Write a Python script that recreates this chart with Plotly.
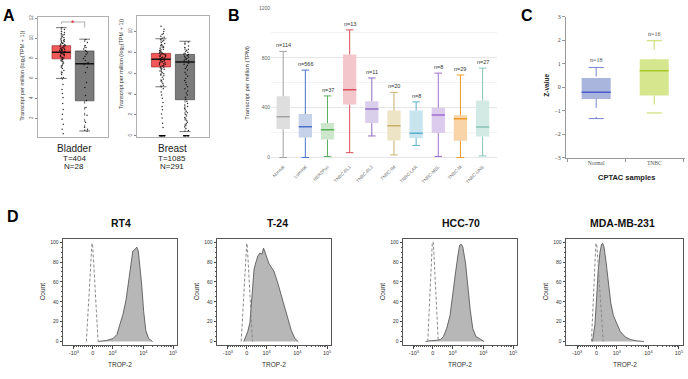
import math
import plotly.graph_objects as go

W, H = 688, 379
def fx(p): return p / W
def fy(p): return 1 - p / H

SANS = "Liberation Sans, Arial, sans-serif"
SERIF = "Liberation Serif, Times New Roman, serif"

# ---------------- DATA ----------------
# Panel A (log2(TPM+1)); stats: lower whisker, q1, median, q3, upper whisker
a_tissues = ["Bladder", "Breast"]
a_tumor_labels = ["T=404", "T=1085"]
a_normal_labels = ["N=28", "N=291"]
a_bladder_tumor = [6.0, 7.96, 8.62, 9.28, 11.08]
a_bladder_normal = [0.74, 3.76, 7.47, 8.75, 9.93]
a_breast_tumor = [4.7, 6.6, 7.33, 7.9, 9.3]
a_breast_normal = [0.4, 3.46, 7.07, 7.8, 9.06]
a_bladder_ticks = [2, 4, 6, 8, 10, 12]
a_breast_ticks = [0, 2, 4, 6, 8, 10]

bladder_tumor_pts = [11.1, 10.9, 10.7, 10.6, 10.5, 10.4, 10.35, 10.2, 10.1, 10.05, 9.95, 9.9, 9.8,
                     9.75, 9.7, 9.6, 9.55, 9.5, 9.45, 9.4, 9.35, 9.3, 9.28, 9.2, 9.15, 9.1, 9.05, 9.0,
                     8.97, 8.92, 8.88, 8.85, 8.8, 8.76, 8.72, 8.7, 8.66, 8.62, 8.58, 8.55, 8.5, 8.46,
                     8.42, 8.38, 8.33, 8.28, 8.22, 8.15, 8.1, 8.05, 7.98, 7.9, 7.82, 7.75, 7.66, 7.55,
                     7.45, 7.3, 7.15, 7.0, 6.8, 6.6, 6.4, 6.1, 5.95, 5.4, 4.9, 4.5, 4.1, 3.5, 2.9, 2.4,
                     1.9, 1.4, 0.9, 0.45]
bladder_normal_pts = [9.9, 9.6, 9.3, 9.1, 8.95, 8.8, 8.7, 8.55, 8.4, 8.2, 8.0, 7.8, 7.6, 7.5, 7.4,
                      7.1, 6.6, 5.6, 5.1, 4.3, 3.8, 3.1, 2.3, 1.6, 1.1, 0.9, 0.8, 0.7]
breast_tumor_pts = [10.5, 10.2, 10.0, 9.8, 9.7, 9.55, 9.45, 9.35, 9.25, 9.15, 9.05, 8.95, 8.85, 8.75,
                    8.68, 8.6, 8.52, 8.45, 8.38, 8.3, 8.24, 8.18, 8.12, 8.06, 8.0, 7.96, 7.92, 7.88,
                    7.84, 7.8, 7.76, 7.72, 7.68, 7.64, 7.6, 7.56, 7.52, 7.48, 7.44, 7.4, 7.36, 7.32,
                    7.28, 7.24, 7.2, 7.16, 7.12, 7.08, 7.04, 7.0, 6.95, 6.9, 6.85, 6.8, 6.75, 6.7,
                    6.64, 6.58, 6.52, 6.45, 6.38, 6.3, 6.22, 6.14, 6.05, 5.95, 5.85, 5.75, 5.6, 5.45,
                    5.3, 5.15, 5.0, 4.85, 4.7, 4.5, 4.2, 3.9, 3.6, 3.2, 2.8, 2.5, 2.1, 1.7, 1.2, 0.8,
                    0, 0, 0, 0, 0, 0, 0, 0, 0, 0, 0, 0, 0, 0, 0, 0, 0, 0, 0, 0]
breast_normal_pts = [9.0, 8.8, 8.6, 8.45, 8.3, 8.2, 8.1, 8.0, 7.92, 7.85, 7.78, 7.7, 7.62, 7.55, 7.48,
                     7.4, 7.32, 7.25, 7.18, 7.1, 7.02, 6.95, 6.85, 6.75, 6.6, 6.45, 6.3, 6.1, 5.9, 5.7,
                     5.5, 5.3, 5.1, 4.9, 4.7, 4.5, 4.3, 4.1, 3.9, 3.7, 3.5, 3.3, 3.1, 2.95, 2.8, 2.65,
                     2.5, 2.35, 2.2, 2.05, 1.9, 1.75, 1.6, 1.45, 1.3, 1.15, 1.0, 0.85, 0.7, 0.5,
                     0, 0, 0, 0, 0, 0, 0, 0, 0, 0, 0, 0, 0, 0, 0]

# Panel B (TPM)
b_subtypes = ["Normal", "Luminal", "HER2Pos", "TNBC-BL1", "TNBC-BL2", "TNBC-IM",
              "TNBC-LAR", "TNBC-MSL", "TNBC-M", "TNBC-UNS"]
b_n = [114, 566, 37, 13, 11, 20, 8, 8, 29, 27]
b_low = [0, 0, 8, 39, 173, 21, 97, 8, 0, 13]
b_q1 = [228, 160, 144, 425, 276, 137, 155, 197, 134, 168]
b_median = [328, 247, 223, 543, 389, 255, 194, 341, 310, 244]
b_q3 = [491, 349, 276, 827, 452, 378, 378, 399, 339, 457]
b_high = [851, 701, 494, 1024, 638, 523, 446, 677, 662, 717]
b_major_ticks = [0, 400, 800, 1200]
b_minor_ticks = [200, 600, 1000]
b_line_colors = ["#a3a3a3", "#4a72c8", "#5cb05c", "#d9505a", "#8f6cc0", "#c9b06e",
                 "#58b0d0", "#a070d0", "#ec9a28", "#86c4b8"]
b_fill_colors = ["#dedede", "#c6d1ea", "#cde7cd", "#f3c6cb", "#dacfea", "#ede3c5",
                 "#c8e5ef", "#ddcbee", "#f9d4a9", "#d2e9e4"]

# Panel C (CPTAC z-values)
c_groups = ["Normal", "TNBC"]
c_n = [18, 16]
c_low = [-1.34, -1.10]
c_q1 = [-0.50, -0.36]
c_median = [-0.22, 0.70]
c_q3 = [0.39, 1.19]
c_high = [0.84, 1.98]
c_ticks = [-3, -2, -1, 0, 1, 2, 3]

# Panel D (flow cytometry, biexponential display channel)
d_cell_lines = ["RT4", "T-24", "HCC-70", "MDA-MB-231"]
d_tick_channels = [-0.95, 0, 1, 2.55, 4.05]
d_tick_labels = ["-10<sup>3</sup>", "0", "10<sup>3</sup>", "10<sup>4</sup>", "10<sup>5</sup>"]
d_count_ticks = [0, 20, 40, 60, 80, 100]

rt4_channel = [0.27, 0.68, 1.02, 1.22, 1.35, 1.52, 1.68, 1.80, 1.85, 1.93, 2.02, 2.10, 2.15,
               2.22, 2.30, 2.38, 2.47, 2.57, 2.68, 2.82, 3.02]
rt4_count = [0, 1, 3, 7, 16, 27, 42, 60, 71, 80, 91, 92, 93, 95, 91, 76, 57, 30, 11, 3, 0]
rt4_iso_channel = [-0.32, -0.04, 0.0, 0.27]
rt4_iso_count = [0, 99, 96, 0]

t24_channel = [-0.15, 0.05, 0.16, 0.24, 0.31, 0.37, 0.45, 0.56, 0.66, 0.77, 0.85, 0.94, 1.02,
               1.11, 1.20, 1.37, 1.55, 1.72, 1.89, 2.07, 2.25, 2.43, 2.60]
t24_count = [0, 10, 19, 38, 57, 73, 79, 86, 89, 88, 94, 89, 83, 79, 76, 71, 60, 48, 35, 22, 11, 3, 0]
t24_iso_channel = [-0.28, 0.0, 0.03, 0.29]
t24_iso_count = [0, 99, 96, 0]

hcc_channel = [-0.36, -0.2, 0.21, 0.38, 0.54, 0.70, 0.87, 1.03, 1.16, 1.28, 1.36, 1.44, 1.52,
               1.66, 1.77, 1.89, 2.02, 2.18, 2.43, 2.59]
hcc_count = [0, 0.6, 1.3, 2, 5, 13, 26, 48, 71, 88, 97, 98, 95, 78, 55, 32, 13, 5, 2, 0]
hcc_iso_channel = [-0.25, -0.02, 0.03, 0.28]
hcc_iso_count = [0, 100, 100, 0]

mda_channel = [-0.2, -0.08, 0.0, 0.08, 0.17, 0.25, 0.30, 0.37, 0.47, 0.58, 0.70, 0.83, 1.0,
               1.17, 1.42, 1.67, 2.0, 2.33]
mda_count = [0, 17, 42, 71, 90, 98, 99, 95, 80, 58, 39, 26, 17, 10, 4.5, 2, 0.6, 0]
mda_iso_channel = [-0.25, -0.03, 0.02, 0.33]
mda_iso_count = [0, 99, 96, 0]

d_series = [(rt4_channel, rt4_count, rt4_iso_channel, rt4_iso_count),
            (t24_channel, t24_count, t24_iso_channel, t24_iso_count),
            (hcc_channel, hcc_count, hcc_iso_channel, hcc_iso_count),
            (mda_channel, mda_count, mda_iso_channel, mda_iso_count)]

# ---------------- FIGURE ----------------
fig = go.Figure()
annotations = []

def note(cx, cy, text, size, color="#222", angle=0, family=None):
    f = dict(size=size, color=color)
    if family:
        f["family"] = family
    annotations.append(dict(x=fx(cx), y=fy(cy), xref="paper", yref="paper", text=text,
                            showarrow=False, xanchor="center", yanchor="middle",
                            textangle=angle, font=f))

def axn(n):
    return ("x", "y") if n == 1 else (f"x{n}", f"y{n}")

def add_boxes(n, xs, lo, q1, med, q3, hi, fills, lines, meds, box_w, cap_half,
              wdash="solid", wwidth=1.0, mwidth=1.5, borders=None, bwidth=0.0):
    xa, ya = axn(n)
    fig.add_trace(go.Bar(x=xs, y=[b - a for a, b in zip(q1, q3)], base=q1, width=box_w,
                         marker=dict(color=fills,
                                     line=dict(color=borders if borders else fills, width=bwidth)),
                         xaxis=xa, yaxis=ya, hoverinfo="skip"))
    for i, x in enumerate(xs):
        fig.add_trace(go.Scatter(x=[x, x, None, x, x], y=[hi[i], q3[i], None, q1[i], lo[i]],
                                 mode="lines", line=dict(color=lines[i], width=wwidth, dash=wdash),
                                 xaxis=xa, yaxis=ya, hoverinfo="skip"))
        fig.add_trace(go.Scatter(x=[x - cap_half, x + cap_half, None, x - cap_half, x + cap_half],
                                 y=[hi[i], hi[i], None, lo[i], lo[i]], mode="lines",
                                 line=dict(color=lines[i], width=wwidth),
                                 xaxis=xa, yaxis=ya, hoverinfo="skip"))
        fig.add_trace(go.Scatter(x=[x - box_w / 2, x + box_w / 2], y=[med[i], med[i]], mode="lines",
                                 line=dict(color=meds[i], width=mwidth),
                                 xaxis=xa, yaxis=ya, hoverinfo="skip"))

# ---- Panel A ----
a_sets = [(1, a_bladder_tumor, a_bladder_normal, bladder_tumor_pts, bladder_normal_pts),
          (2, a_breast_tumor, a_breast_normal, breast_tumor_pts, breast_normal_pts)]
for n, tum, nor, tpts, npts in a_sets:
    xa, ya = axn(n)
    for pos, pts in ((1, tpts), (2, npts)):
        fig.add_trace(go.Box(y=pts, x0=pos + 0.06, boxpoints="all", jitter=0.6, pointpos=0, width=0.45,
                             line=dict(width=0), fillcolor="rgba(0,0,0,0)",
                             marker=dict(size=1.5, color="rgba(0,0,0,0.8)"),
                             xaxis=xa, yaxis=ya, hoverinfo="skip"))
    add_boxes(n, [1, 2], [tum[0], nor[0]], [tum[1], nor[1]], [tum[2], nor[2]], [tum[3], nor[3]],
              [tum[4], nor[4]], ["#f25858", "#7b7b7b"], ["#333333", "#333333"], ["#111111", "#111111"],
              0.8, 0.23, wdash="dot", wwidth=0.7, mwidth=1.4,
              borders=["#9a3030", "#4a4a4a"], bwidth=0.7)

# significance bracket (bladder)
fig.add_trace(go.Scatter(x=[1, 1, 2, 2], y=[11.45, 11.65, 11.65, 11.1], mode="lines",
                         line=dict(color="#777777", width=0.6), xaxis="x", yaxis="y", hoverinfo="skip"))
annotations.append(dict(x=1.5, y=11.55, xref="x", yref="y", text="*", showarrow=False,
                        xanchor="center", yanchor="middle",
                        font=dict(color="#e02020", size=9)))

for i, cx in enumerate([74, 172]):
    note(cx, 148, a_tissues[i], 10)
    note(cx, 157.5, a_tumor_labels[i], 8)
    note(cx, 166.5, a_normal_labels[i], 8)
note(23, 74, "Transcript per million (log<sub>2</sub>(TPM + 1))", 5.5, "#333", -90)
note(121, 62, "Transcript per million (log<sub>2</sub>(TPM + 1))", 5.5, "#333", -90)

# ---- Panel B ----
b_x = list(range(len(b_subtypes)))
add_boxes(3, b_x, b_low, b_q1, b_median, b_q3, b_high, b_fill_colors, b_line_colors, b_line_colors,
          0.6, 0.17, wwidth=1.0, mwidth=1.5)
for i, x in enumerate(b_x):
    annotations.append(dict(x=x, y=b_high[i], xref="x3", yref="y3", text=f"n={b_n[i]}",
                            showarrow=False, xanchor="center", yanchor="bottom", yshift=1,
                            font=dict(size=5.5, color="#333")))
note(247, 81, "Transcript per million (TPM)", 6, "#333", -90)

# ---- Panel C ----
c_x = [0, 1]
add_boxes(4, c_x, c_low, c_q1, c_median, c_q3, c_high, ["#aab5de", "#d5e68e"],
          ["#5566c8", "#b8d43a"], ["#4a5cc8", "#a8c828"], 0.5, 0.13,
          wdash="dash", wwidth=0.8, mwidth=1.5)
for i, x in enumerate(c_x):
    annotations.append(dict(x=x, y=c_high[i], xref="x4", yref="y4", text=f"n={c_n[i]}",
                            showarrow=False, xanchor="center", yanchor="bottom", yshift=2,
                            font=dict(size=6, color="#555", family=SERIF)))
note(547, 84, "<b>Z-value</b>", 6.5, "#222", -90)
note(626, 177, "<b>CPTAC samples</b>", 7.5, "#222")

# ---- Panel D ----
d_frames = [(63, 177), (217, 331), (403, 517), (566, 683)]
d_titles_x = [121, 277, 461, 622]
for k, (ch, cnt, ich, icnt) in enumerate(d_series):
    n = 5 + k
    xa, ya = axn(n)
    fig.add_trace(go.Scatter(x=ch, y=cnt, mode="lines", fill="tozeroy", fillcolor="#b7b7b7",
                             line=dict(color="#4a4a4a", width=0.8), xaxis=xa, yaxis=ya,
                             hoverinfo="skip"))
    fig.add_trace(go.Scatter(x=ich, y=icnt, mode="lines",
                             line=dict(color="#8a8a8a", width=1, dash="3px,2px"),
                             xaxis=xa, yaxis=ya, hoverinfo="skip"))
    l, r = d_frames[k]
    note(d_titles_x[k], 224, f"<b>{d_cell_lines[k]}</b>", 10.5, "#111")
    note(l - 21, 293, "Count", 6.5, "#333", -90)
    note((l + r) / 2, 367, "TROP-2", 6.5, "#333")

# panel letters
for letter, (cx, cy) in zip("ABCD", [(9, 12.5), (234, 12.5), (527, 12.5), (13, 217)]):
    note(cx, cy, f"<b>{letter}</b>", 16, "#000")

# ---------------- AXES ----------------
layout = dict(width=W, height=H, margin=dict(l=0, r=0, t=0, b=0), paper_bgcolor="white",
              plot_bgcolor="white", showlegend=False, barmode="overlay", boxmode="overlay",
              font=dict(family=SANS), annotations=annotations)

def dom_x(l, r): return [fx(l), fx(r)]
def dom_y(t, b): return [fy(b), fy(t)]

frame = dict(showline=True, mirror=True, linecolor="#b0b0b0", linewidth=1, zeroline=False, showgrid=False)
layout["xaxis"] = dict(domain=dom_x(38, 108), range=[0, 3], anchor="y", showticklabels=False,
                       ticks="", **frame)
layout["yaxis"] = dict(domain=dom_y(14, 136), range=[0.15, 12.17], anchor="x", tickvals=a_bladder_ticks,
                       ticks="outside", ticklen=2, tickcolor="#888", tickangle=-90,
                       tickfont=dict(size=4.5, color="#555"), **frame)
layout["xaxis2"] = dict(domain=dom_x(137, 209), range=[0, 3], anchor="y2", showticklabels=False,
                        ticks="", **frame)
layout["yaxis2"] = dict(domain=dom_y(13, 136), range=[-0.1, 11.5], anchor="x2", tickvals=a_breast_ticks,
                        ticks="outside", ticklen=2, tickcolor="#888", tickangle=-90,
                        tickfont=dict(size=4.5, color="#555"), **frame)

layout["xaxis3"] = dict(domain=dom_x(271, 497), range=[-0.55, 9.65], anchor="y3", tickvals=b_x,
                        ticktext=b_subtypes, tickangle=-45, tickfont=dict(size=4.5, color="#666"),
                        showline=False, showgrid=False, zeroline=False, ticks="")
layout["yaxis3"] = dict(domain=dom_y(4, 162), range=[-39.5, 1208], anchor="x3", tickvals=b_major_ticks,
                        tickfont=dict(size=5, color="#666"), showline=False, zeroline=False,
                        showgrid=True, gridcolor="#e6e6e6", gridwidth=0.8, ticks="",
                        minor=dict(tickmode="array", tickvals=b_minor_ticks, showgrid=True,
                                   gridcolor="#f3f3f3", gridwidth=0.6, ticks=""))

layout["xaxis4"] = dict(domain=dom_x(566, 685), range=[-0.52, 1.53], anchor="y4", tickvals=c_x,
                        ticktext=c_groups, tickfont=dict(size=5.5, color="#555", family=SERIF),
                        showline=True, linecolor="#999", linewidth=1, zeroline=False, showgrid=False,
                        ticks="", minor=dict(tickmode="array", tickvals=[-0.5, 0.5, 1.5],
                                             ticks="outside", ticklen=3, tickcolor="#999"))
layout["yaxis4"] = dict(domain=dom_y(14, 157), range=[-3, 3], anchor="x4", tickvals=c_ticks,
                        ticks="outside", ticklen=3, tickcolor="#999",
                        tickfont=dict(size=6, color="#444", family=SERIF),
                        showline=True, linecolor="#999", linewidth=1, zeroline=False, showgrid=False)

d_minor = ([0.1 * k for k in range(-9, 10) if k != 0] +
           [1 + 1.55 * math.log10(k) for k in range(2, 10)] +
           [2.55 + 1.5 * math.log10(k) for k in range(2, 10)])
for k, (l, r) in enumerate(d_frames):
    n = 5 + k
    layout[f"xaxis{n}"] = dict(domain=dom_x(l, r), range=[-1.5, 4.25], anchor=f"y{n}",
                               tickvals=d_tick_channels, ticktext=d_tick_labels,
                               tickfont=dict(size=5.5, color="#333"), ticks="outside", ticklen=3,
                               tickcolor="#444", showline=True, mirror=True, linecolor="#555",
                               linewidth=1, zeroline=False, showgrid=False,
                               minor=dict(tickmode="array", tickvals=d_minor, ticks="outside",
                                          ticklen=1.5, tickcolor="#555"))
    layout[f"yaxis{n}"] = dict(domain=dom_y(240, 347), range=[-3, 103], anchor=f"x{n}",
                               tickvals=d_count_ticks, tickfont=dict(size=5, color="#333"),
                               ticks="outside", ticklen=2.5, tickcolor="#444", showline=True,
                               mirror=True, linecolor="#555", linewidth=1, zeroline=False,
                               showgrid=False,
                               minor=dict(dtick=5, tick0=0, ticks="outside", ticklen=1.3,
                                          tickcolor="#555"))

fig.update_layout(**layout)
fig.write_html("out.html")
